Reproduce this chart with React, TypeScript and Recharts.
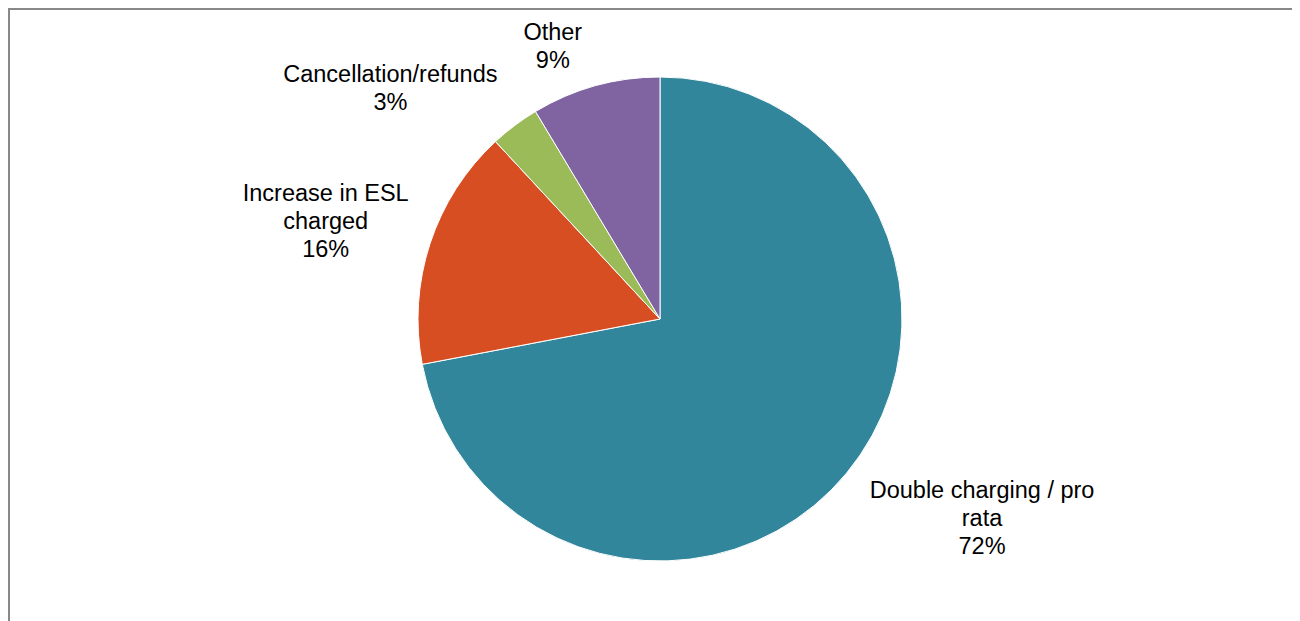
import { PieChart, Pie, Cell } from 'recharts';

const categories = [
    'Double charging / pro rata',
    'Increase in ESL charged',
    'Cancellation/refunds',
    'Other',
];
const shares = [72.0, 16.1, 3.3, 8.6];
const colors = ['#31869b', '#d84e23', '#9bbb59', '#8064a2'];

const data = categories.map((name, i) => ({ name, value: shares[i] }));

const FONT_SIZE = 23.5;
const LINE_H = 28;
const FONT = `${FONT_SIZE}px "Liberation Sans", Arial, sans-serif`;
const RADIAN = Math.PI / 180;

let ctx: CanvasRenderingContext2D | null = null;
function measure(text: string) {
    if (!ctx) {
        ctx = document.createElement('canvas').getContext('2d');
    }
    if (!ctx) return text.length * FONT_SIZE * 0.5;
    ctx.font = FONT;
    return ctx.measureText(text).width;
}

// wrap a category name the way Excel does for data labels
function wrap(text: string, maxWidth: number) {
    const words = text.split(' ');
    const lines: string[] = [];
    let cur = '';
    words.forEach((w) => {
        const next = cur ? `${cur} ${w}` : w;
        if (cur && measure(next) > maxWidth) {
            lines.push(cur);
            cur = w;
        } else {
            cur = next;
        }
    });
    if (cur) lines.push(cur);
    return lines;
}

function renderLabel(props: any) {
    const { cx, cy, midAngle, outerRadius, percent, name } = props;
    const lines = [...wrap(name, 240), `${Math.round(percent * 100)}%`];
    const w = Math.max(...lines.map(measure));
    const h = lines.length * LINE_H;
    const r = outerRadius + 12;
    const cos = Math.cos(-midAngle * RADIAN);
    const sin = Math.sin(-midAngle * RADIAN);
    const ax = cx + r * cos;
    const ay = cy + r * sin;
    const boxCenterX = cos >= 0 ? ax + 14 + w / 2 : ax - 10 - w / 2;
    const up = Math.max(-1, Math.min(1, -sin * 1.4));
    const boxTop = ay - (h / 2) * up - h / 2;
    return (
        <text
            textAnchor="middle"
            fill="#000"
            style={{ font: FONT }}
        >
            {lines.map((line, i) => (
                <tspan key={i} x={boxCenterX} y={boxTop + LINE_H / 2 + i * LINE_H + 8}>
                    {line}
                </tspan>
            ))}
        </text>
    );
}

export default function App() {
    return (
        <div
            style={{
                width: 1290,
                height: 611,
                borderTop: '2px solid #888',
                borderLeft: '2px solid #888',
                background: '#fff',
                fontFamily: '"Liberation Sans", Arial, sans-serif',
            }}
        >
            <PieChart width={1290} height={611} margin={{ top: 0, right: 0, bottom: 0, left: 0 }}>
                <Pie
                    data={data}
                    dataKey="value"
                    nameKey="name"
                    cx={650}
                    cy={309}
                    outerRadius={242}
                    startAngle={90}
                    endAngle={-270}
                    stroke="#fff"
                    strokeWidth={1}
                    label={renderLabel}
                    labelLine={false}
                    isAnimationActive={false}
                >
                    {data.map((d, i) => (
                        <Cell key={d.name} fill={colors[i]} />
                    ))}
                </Pie>
            </PieChart>
        </div>
    );
}
